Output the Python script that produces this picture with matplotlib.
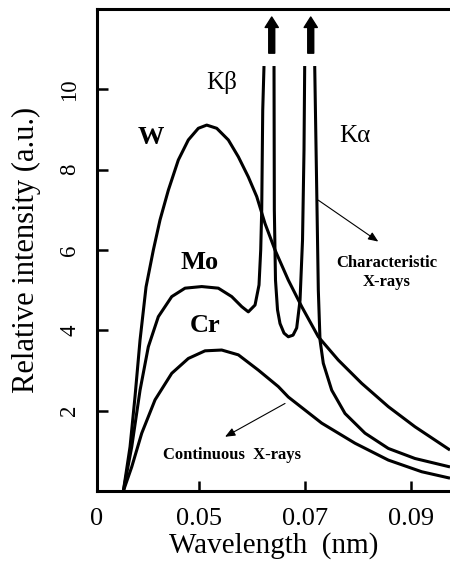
import numpy as np
import matplotlib.pyplot as plt

plt.rcParams['font.family'] = ['Liberation Serif', 'DejaVu Serif']

# continuous + characteristic spectra (wavelength in nm, intensity in a.u.)
w_wave = [0.03572, 0.03698, 0.03792, 0.03887, 0.04000, 0.04138, 0.04264, 0.04421,
          0.04609, 0.04798, 0.04987, 0.05145, 0.05334, 0.05553, 0.05742, 0.05930,
          0.06089, 0.06245, 0.06434, 0.06685, 0.06938, 0.07251, 0.07628, 0.08070,
          0.08572, 0.09075, 0.09736]
w_int = [0.0, 1.10, 2.35, 3.76, 5.08, 6.00, 6.75, 7.49,
         8.24, 8.74, 9.03, 9.11, 9.03, 8.74, 8.32, 7.82,
         7.33, 6.66, 6.00, 5.25, 4.59, 3.84, 3.26, 2.68,
         2.10, 1.60, 1.02]

# Mo: continuum up the Kb line, Kb-Ka trough, Ka line down into the tail (nan = gap at line tops)
mo_wave = [0.03572, 0.03730, 0.03887, 0.04043, 0.04232, 0.04485, 0.04736, 0.05051,
           0.05364, 0.05617, 0.05806, 0.05930, 0.06057, 0.06132, 0.06164, 0.06183,
           0.06202, 0.06226, np.nan,
           0.06415, 0.06421, 0.06443, 0.06481, 0.06528, 0.06604, 0.06685, 0.06774,
           0.06843, 0.06906, 0.06953, 0.06981, 0.06994, np.nan,
           0.07183, 0.07221, 0.07251, 0.07283, 0.07345, 0.07504, 0.07755, 0.08132,
           0.08572, 0.09075, 0.09736]
mo_int = [0.0, 1.10, 2.51, 3.59, 4.34, 4.84, 5.05, 5.09,
          5.05, 4.84, 4.59, 4.46, 4.63, 5.13, 6.00, 7.00,
          9.48, 10.58, np.nan,
          10.58, 7.00, 5.25, 4.51, 4.17, 3.93, 3.84, 3.88,
          4.06, 4.75, 6.25, 8.49, 10.58, np.nan,
          10.58, 7.49, 5.00, 3.76, 3.18, 2.51, 1.93, 1.44,
          1.06, 0.81, 0.60]

cr_wave = [0.03572, 0.03730, 0.03919, 0.04170, 0.04485, 0.04798, 0.05113, 0.05428,
           0.05742, 0.06119, 0.06496, 0.06685, 0.07315, 0.07943, 0.08572, 0.09202,
           0.09736]
cr_int = [0.0, 0.60, 1.44, 2.27, 2.93, 3.30, 3.49, 3.51,
          3.39, 3.01, 2.60, 2.34, 1.69, 1.19, 0.77, 0.48,
          0.32]

xticks = [0.03075, 0.05, 0.07, 0.09]
xtick_labels = ['0', '0.05', '0.07', '0.09']
yticks = [2, 4, 6, 8, 10]

fig = plt.figure(figsize=(4.5, 5.62), dpi=100)
ax = fig.add_axes([0.2156, 0.1263, 0.7844, 0.8577])

for xs, ys in [(w_wave, w_int), (mo_wave, mo_int), (cr_wave, cr_int)]:
    ax.plot(xs, ys, color='black', lw=2.2, solid_joinstyle='round', solid_capstyle='butt')

ax.set_xlim(0.03075, 0.09736)
ax.set_ylim(0, 12.0)

ax.set_xticks(xticks)
ax.set_xticklabels(xtick_labels, fontsize=19)
ax.set_yticks(yticks)
ax.set_yticklabels([str(v) for v in yticks], fontsize=16.5, rotation=90, va='center')
ax.tick_params(axis='x', direction='in', length=7, width=1.8, pad=12)
ax.tick_params(axis='y', direction='in', length=8, width=1.8, pad=12)

for side in ['left', 'bottom', 'top']:
    ax.spines[side].set_linewidth(2.2)
ax.spines['right'].set_visible(False)

ax.set_xlabel('Wavelength  (nm)', fontsize=21, labelpad=1.5)
ax.set_ylabel('Relative intensity (a.u.)', fontsize=22, labelpad=13)

# curve labels
ax.text(0.04094, 8.81, 'W', fontsize=19, fontweight='bold', ha='center', va='center')
ax.text(0.05019, 5.68, 'Mo', fontsize=19, fontweight='bold', ha='center', va='center')
ax.text(0.05113, 4.11, 'Cr', fontsize=19, fontweight='bold', ha='center', va='center')
ax.text(0.05434, 10.18, 'Kβ', fontsize=18, ha='center', va='center')
ax.text(0.07943, 8.84, 'Kα', fontsize=18, ha='center', va='center')

# lines run off the scale
for x in [0.06372, 0.07108]:
    ax.annotate('', xy=(x, 11.8), xytext=(x, 10.9),
                arrowprops=dict(width=4.3, headwidth=9.5, headlength=7.5, shrink=0,
                                facecolor='black', edgecolor='black'))

ax.text(0.08542, 5.44, 'Characteristic\nX-rays', fontsize=12, fontweight='bold',
        ha='center', va='center', linespacing=1.25)
ax.annotate('', xy=(0.08383, 6.21), xytext=(0.07251, 7.24),
            arrowprops=dict(arrowstyle='-|>,head_length=0.6,head_width=0.25',
                            color='black', lw=0.8, shrinkA=0, shrinkB=0))

ax.text(0.05623, 0.90, 'Continuous  X-rays', fontsize=12, fontweight='bold',
        ha='center', va='center')
ax.annotate('', xy=(0.05491, 1.35), xytext=(0.06623, 2.18),
            arrowprops=dict(arrowstyle='-|>,head_length=0.6,head_width=0.25',
                            color='black', lw=0.8, shrinkA=0, shrinkB=0))

fig.savefig('out.png', dpi=100)
